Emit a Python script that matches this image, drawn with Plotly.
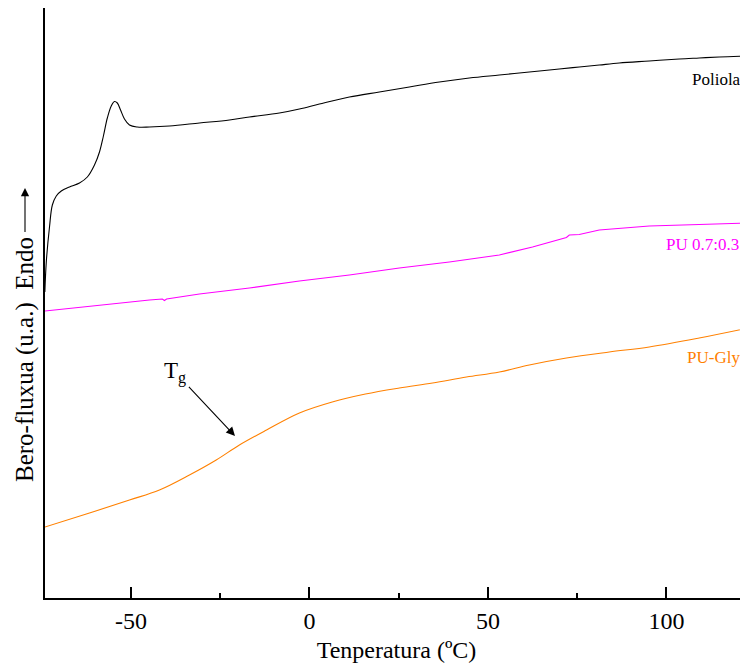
import plotly.graph_objects as go

# Temperature (°C) and heat flow (a.u.)
poliol_T = [-74.1, -73.7, -72.8, -72.0, -70.9, -69.5, -67.2, -64.4, -62.2, -60.2, -58.8, -57.7,
            -56.6, -55.5, -54.6, -53.8, -52.9, -51.8, -50.4, -48.2, -44.8, -39.2, -30.8, -22.4,
            -16.8, -8.4, -2.8, 2.8, 11.2, 19.6, 28.0, 36.4, 44.8, 53.2, 61.6, 70.0, 75.6, 81.2,
            86.8, 95.2, 103.6, 109.2, 114.8, 123.0]
poliol_H = [3.06, 3.36, 3.71, 3.93, 4.02, 4.07, 4.11, 4.15, 4.21, 4.33, 4.46, 4.62,
            4.80, 4.92, 4.965, 4.95, 4.88, 4.79, 4.73, 4.71, 4.71, 4.72, 4.75, 4.78,
            4.81, 4.85, 4.89, 4.94, 5.01, 5.06, 5.11, 5.16, 5.20, 5.23, 5.26, 5.29, 5.31, 5.33,
            5.35, 5.37, 5.39, 5.40, 5.41, 5.42]

pu73_T = [-74.1, -58.8, -44.8, -41.2, -40.6, -40.0, -30.8, -16.8, -2.8, 11.2, 25.2, 39.2,
          53.2, 62.5, 68.6, 72.0, 72.8, 75.6, 81.2, 90.4, 95.2, 109.2, 123.0]
pu73_H = [2.87, 2.93, 2.98, 2.99, 2.975, 2.99, 3.04, 3.10, 3.17, 3.23, 3.30, 3.36,
          3.43, 3.51, 3.57, 3.605, 3.63, 3.635, 3.68, 3.71, 3.72, 3.735, 3.75]

pugly_T = [-74.1, -61.6, -50.4, -42.0, -33.6, -26.1, -19.6, -12.0, -2.8, 6.4, 15.7, 25.2,
           34.5, 44.0, 53.2, 61.6, 72.0, 84.0, 95.2, 109.2, 123.0]
pugly_H = [0.71, 0.85, 0.98, 1.08, 1.23, 1.38, 1.53, 1.68, 1.85, 1.96, 2.04, 2.10,
           2.15, 2.21, 2.26, 2.33, 2.40, 2.46, 2.51, 2.60, 2.70]

x_ticks = [-50, 0, 50, 100]
x_tick_labels = ["-50", "0", "50", "100"]
x_minor_ticks = [-25, 25, 75]

FONT = "Liberation Serif, Times New Roman, serif"

# page body adds an 8px margin: window px -> figure paper coords
L, T, PW, PH = 45, 8, 703, 590


def px(xp):
    return (xp - L) / PW


def py(yp):
    return (T + PH - yp) / PH


fig = go.Figure()
fig.add_trace(go.Scatter(x=poliol_T, y=poliol_H, mode="lines",
                         line=dict(color="black", width=1.1), line_shape="spline",
                         name="Poliola"))
fig.add_trace(go.Scatter(x=pu73_T, y=pu73_H, mode="lines",
                         line=dict(color="#FF00FF", width=1.1), name="PU 0.7:0.3"))
fig.add_trace(go.Scatter(x=pugly_T, y=pugly_H, mode="lines",
                         line=dict(color="#FF8000", width=1.1), line_shape="spline",
                         name="PU-Gly"))

annotations = [
    dict(text="Poliola", x=px(690), y=py(80), xref="paper", yref="paper",
         xanchor="left", yanchor="middle", showarrow=False, font=dict(size=17, color="black")),
    dict(text="PU 0.7:0.3", x=px(664), y=py(244), xref="paper", yref="paper",
         xanchor="left", yanchor="middle", showarrow=False, font=dict(size=17, color="#FF00FF")),
    dict(text="PU-Gly", x=px(685), y=py(357), xref="paper", yref="paper",
         xanchor="left", yanchor="middle", showarrow=False, font=dict(size=17, color="#FF8000")),
    # Tg label with its arrow (arrow head on the curve)
    dict(text="T<sub>g</sub>", x=px(235), y=py(436), xref="paper", yref="paper",
         ax=-60, ay=-64, showarrow=True, arrowhead=2, arrowsize=1.6, arrowwidth=1.1,
         arrowcolor="black", standoff=0, startstandoff=2,
         font=dict(size=23, color="black")),
    # y-axis title with its upward arrow
    dict(text="Bero-fluxua (u.a.)  Endo", x=px(25), y=py(188), xref="paper", yref="paper",
         ax=0, ay=172, textangle=-90, showarrow=True, arrowhead=2, arrowsize=1.5,
         arrowwidth=1.1, arrowcolor="black", standoff=0, startstandoff=4,
         font=dict(size=25, color="black")),
]

fig.update_layout(
    width=740, height=666,
    margin=dict(l=37, r=0, t=0, b=76),
    paper_bgcolor="white", plot_bgcolor="white",
    showlegend=False,
    font=dict(family=FONT, color="black"),
    annotations=annotations,
    xaxis=dict(range=[-74.06, 122.86], showgrid=False, zeroline=False, automargin=False,
               showline=True, linecolor="black", linewidth=1.6, mirror=True,
               ticks="inside", ticklen=11, tickwidth=1.5, tickcolor="black",
               tickvals=x_ticks, ticktext=x_tick_labels,
               tickfont=dict(size=24, family=FONT, color="black"),
               minor=dict(tickvals=x_minor_ticks, ticks="inside", ticklen=5,
                          tickwidth=1.5, tickcolor="black"),
               title=dict(text="Tenperatura (ºC)", font=dict(size=24, family=FONT),
                          standoff=9)),
    yaxis=dict(range=[0, 5.9], showgrid=False, zeroline=False, automargin=False,
               showline=True, linecolor="black", linewidth=1.6,
               showticklabels=False, ticks=""),
)

fig.write_html("out.html")
